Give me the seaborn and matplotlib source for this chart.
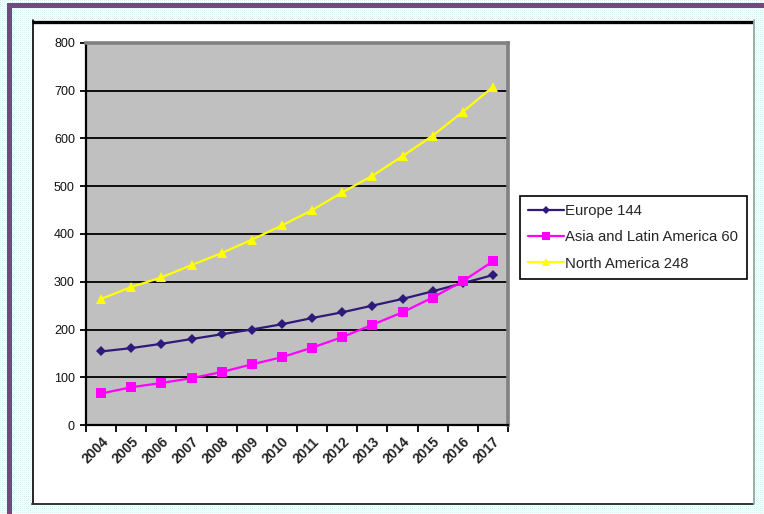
import numpy as np
import pandas as pd
import matplotlib
matplotlib.use("Agg")
import matplotlib.pyplot as plt
from matplotlib.patches import Rectangle
import seaborn as sns

years = ["2004", "2005", "2006", "2007", "2008", "2009", "2010",
         "2011", "2012", "2013", "2014", "2015", "2016", "2017"]
europe = [154, 161, 170, 180, 190, 200, 211, 224, 236, 250, 264, 280, 297, 314]
asia_latam = [66, 79, 88, 98, 111, 127, 142, 162, 184, 210, 236, 267, 301, 343]
north_america = [264, 289, 309, 335, 360, 388, 418, 450, 487, 522, 563, 606, 656, 708]

series_names = ["Europe 144", "Asia and Latin America 60", "North America 248"]
series_values = [europe, asia_latam, north_america]
colors = ["#2E1A7A", "#FF00FF", "#FFFF00"]
markers = ["D", "s", "^"]
marker_sizes = [5.5, 7, 7]
yticks = [0, 100, 200, 300, 400, 500, 600, 700, 800]

rows = []
for name, vals in zip(series_names, series_values):
    for i, (yr, v) in enumerate(zip(years, vals)):
        rows.append({"pos": i, "year": yr, "value": v, "series": name})
df = pd.DataFrame(rows)

sns.set_theme(style="white")
plt.rcParams["font.family"] = ["Liberation Sans", "DejaVu Sans"]

W, H = 764, 514
fig = plt.figure(figsize=(W / 100, H / 100), dpi=100)

# page background, frame and chart box drawn in pixel coordinates
bg = fig.add_axes([0, 0, 1, 1], zorder=-1)
bg.set_xlim(0, W)
bg.set_ylim(H, 0)
bg.axis("off")
ii, jj = np.mgrid[0:H, 0:W]
pattern = np.ones((H, W, 3))
mask = ((ii + jj) % 2 == 0) & (ii % 2 == 0)
pattern[mask] = np.array([0.82, 0.95, 0.95])
mask2 = ((ii + jj) % 2 == 0) & (ii % 2 == 1)
pattern[mask2] = np.array([0.92, 0.985, 0.985])
bg.imshow(pattern, extent=(0, W, H, 0), interpolation="nearest", aspect="auto")
bg.add_patch(Rectangle((7, 3), W - 7, 5, facecolor="#7B4580", edgecolor="none"))
bg.add_patch(Rectangle((7, 3), 5, H - 3, facecolor="#7B4580", edgecolor="none"))
bg.add_patch(Rectangle((32, 20), 721, 484, facecolor="white", edgecolor="none"))
bg.plot([32, 753], [21.5, 21.5], color="black", lw=2.4, solid_capstyle="butt")
bg.plot([32.5, 32.5], [20, 504], color="black", lw=1.2)
bg.plot([32, 753], [503.5, 503.5], color="#333333", lw=1.4)
bg.plot([753.5, 753.5], [20, 504], color="#999999", lw=1.2)

# plot area
left, right, top, bottom = 86, 508, 43, 425
ax = fig.add_axes([left / W, (H - bottom) / H, (right - left) / W, (bottom - top) / H])
ax.set_facecolor("#C0C0C0")

palette = dict(zip(series_names, colors))
marker_map = dict(zip(series_names, markers))
sns.lineplot(data=df, x="pos", y="value", hue="series", style="series",
             hue_order=series_names, style_order=series_names,
             palette=palette, markers=marker_map, dashes=False,
             linewidth=1.6, markersize=6, markeredgewidth=0, ax=ax, zorder=3)
for line, ms in zip(ax.get_lines(), marker_sizes):
    line.set_markersize(ms)

ax.set_xlim(-0.5, len(years) - 0.5)
ax.set_ylim(0, 800)
ax.set_yticks(yticks)
ax.set_yticklabels([str(t) for t in yticks], fontsize=9, color="#111111")
ax.yaxis.grid(True, color="black", lw=1.3, zorder=1)
ax.set_axisbelow(True)

ax.set_xticks(np.arange(-0.5, len(years)), minor=False)
ax.set_xticklabels([""] * (len(years) + 1))
ax.set_xticks(np.arange(len(years)), minor=True)
ax.set_xticklabels(years, minor=True, rotation=45, ha="right", va="top",
                   rotation_mode="anchor", fontsize=10, fontweight="bold",
                   color="#222222")
ax.tick_params(axis="x", which="major", direction="out", length=5, width=1.3,
               color="black", bottom=True)
ax.tick_params(axis="x", which="minor", length=0, pad=7)
ax.tick_params(axis="y", direction="out", length=4, width=1.3, color="black",
               left=True, pad=4)
ax.set_xlabel("")
ax.set_ylabel("")

for side in ["left", "bottom"]:
    ax.spines[side].set_color("black")
    ax.spines[side].set_linewidth(1.6)
for side in ["top", "right"]:
    ax.spines[side].set_color("#808080")
    ax.spines[side].set_linewidth(2.6)

handles, labels = ax.get_legend_handles_labels()
for h, ms in zip(handles, marker_sizes):
    h.set_markersize(ms * 0.75)
leg = ax.legend(handles, labels, loc="upper left",
                bbox_to_anchor=((520 - left) / (right - left), (bottom - 196) / (bottom - top)),
                borderaxespad=0, frameon=True, fancybox=False, framealpha=1,
                edgecolor="black", fontsize=10.7, handlelength=2.4, handletextpad=0.1,
                labelspacing=0.82, borderpad=0.55)
leg.get_frame().set_linewidth(1.2)

fig.savefig("out.png", dpi=100)
